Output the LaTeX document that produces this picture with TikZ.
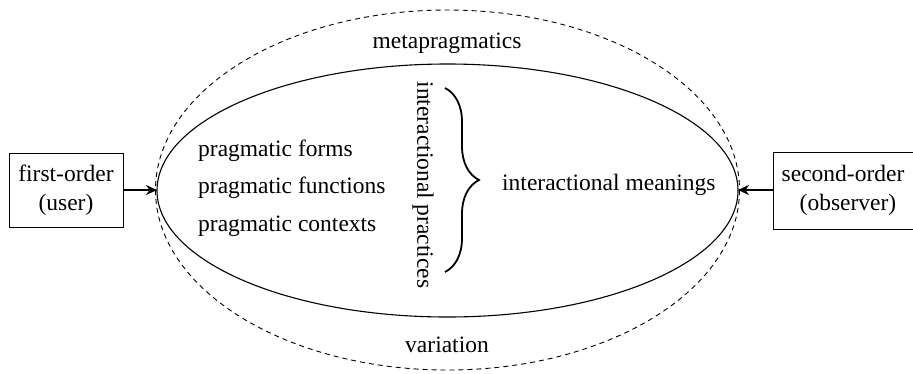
\documentclass[tikz,border=0pt]{standalone}
\usepackage{fontspec}
\setmainfont{Liberation Serif}
\usetikzlibrary{arrows.meta,decorations.pathreplacing}
\tikzset{
  lbl/.style={font=\fontsize{23.5}{27}\selectfont, inner sep=0pt},
  orderbox/.style={draw, line width=1pt, font=\fontsize{23.5}{29}\selectfont, align=center, inner sep=0pt},
  feed/.style={-{Stealth[length=11pt,width=10pt]}, line width=2pt},
}
\begin{document}
\begin{tikzpicture}[x=1pt,y=-1pt]
\useasboundingbox (0,0) rectangle (913,373);
% outer (dashed) and inner (solid) ellipses
\draw[line width=0.9pt, dash pattern=on 5pt off 4pt] (447.5,190) ellipse [x radius=292, y radius=180];
\draw[line width=1.1pt] (447.5,190.5) ellipse [x radius=290.5, y radius=126.5];
\coordinate (inL) at (157,190);
\coordinate (inR) at (738,190);
% side boxes
\node[orderbox, minimum width=114pt, minimum height=74pt] (first) at (66,190) {first-order\\(user)};
\node[orderbox, minimum width=140pt, minimum height=77pt] (second) at (843,190.5) {second-order\\\hspace*{10pt}(observer)};
\draw[feed] (first.east |- inL) -- (inL);
\draw[feed] (second.west |- inR) -- (inR);
% labels
\node[lbl] (meta) at (447,43) {metapragmatics};
\node[lbl] (var) at (447,345) {variation};
\node[lbl, anchor=west] (forms) at (198,151) {pragmatic forms};
\node[lbl, anchor=west] (funcs) at (198,188) {pragmatic functions};
\node[lbl, anchor=west] (ctxs) at (198,226) {pragmatic contexts};
\node[lbl, rotate=-90] (pract) at (423,185) {interactional practices};
\node[lbl, anchor=west] (mean) at (502,185) {interactional meanings};
% brace grouping the practices
\coordinate (brT) at (445,88);
\coordinate (brB) at (445,272);
\draw[decorate, decoration={brace, amplitude=34pt}, line width=1.8pt] (brT) -- (brB);
\end{tikzpicture}
\end{document}
